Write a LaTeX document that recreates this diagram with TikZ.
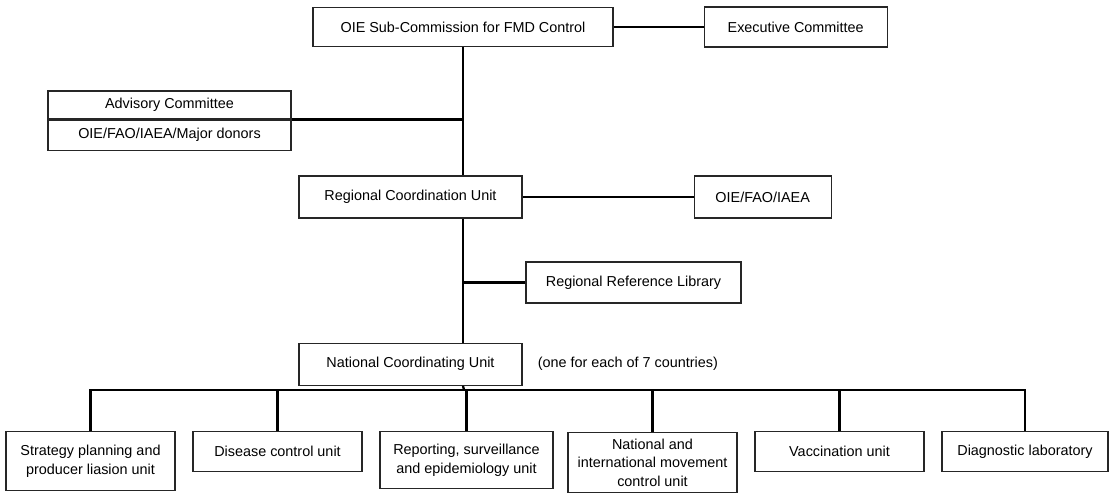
\documentclass[tikz,border=0pt]{standalone}
\usepackage{fontspec}
\setmainfont{Liberation Sans}
\usepackage{tikz}
\usetikzlibrary{positioning}

\begin{document}
\begin{tikzpicture}[
    x=0.75pt, y=-0.75pt,
    box/.style={rectangle, draw=black!85, line width=0.9pt, fill=white, minimum height=31.5pt, align=center, inner sep=2pt, font=\fontsize{10.8}{14}\selectfont},
    unitbox/.style={box, anchor=north, minimum width=126.75pt},
    conn/.style={line width=1.7pt, black},
    note/.style={font=\fontsize{10.8}{14}\selectfont, inner sep=0pt, anchor=west}
]
\useasboundingbox (0,0) rectangle (1118,494);

% Top level
\node[box, minimum width=225pt, minimum height=29.25pt] (sub) at (463,27) {OIE Sub-Commission for FMD Control};
\node[box, minimum width=137.25pt, minimum height=30pt, right=67.5pt of sub] (exec) {Executive Committee};

% Advisory committee (two rows)
\node[box, minimum width=182.25pt, minimum height=21pt] (advisory) at (169.5,105) {Advisory Committee};
\node[box, minimum width=182.25pt, minimum height=22.5pt, below=0pt of advisory] (donors) {OIE/FAO/IAEA/Major donors};

% Regional level
\node[box, minimum width=167.25pt] (rcu) at (410.5,197) {Regional Coordination Unit};
\node[box, minimum width=102.75pt, right=128.25pt of rcu] (oiefao) {OIE/FAO/IAEA};
\node[box, minimum width=161.25pt, minimum height=30.75pt] (library) at (633.5,282.5) {Regional Reference Library};

% National level
\node[box, minimum width=167.25pt, below=93pt of rcu] (ncu) {National Coordinating Unit};
\node[note, right=11.25pt of ncu] (countries) {(one for each of 7 countries)};

% Units
\node[unitbox, minimum height=44.25pt] (b1) at (90.5,431) {Strategy planning and\\producer liasion unit};
\node[unitbox, minimum height=30pt] (b2) at (277.5,431) {Disease control unit};
\node[unitbox, minimum width=129.75pt, minimum height=42.75pt] (b3) at (466.5,431) {Reporting, surveillance\\and epidemiology unit};
\node[unitbox, minimum height=45pt] (b4) at (652.5,432) {National and\\international movement\\control unit};
\node[unitbox, minimum height=30pt] (b5) at (839.5,431) {Vaccination unit};
\node[unitbox, minimum width=124.5pt, minimum height=30pt] (b6) at (1025,431) {Diagnostic laboratory};

\coordinate (bus) at (464,390);

% Trunk
\draw[conn] (sub.south) -- (sub.south |- rcu.north);
\draw[conn] (sub.south |- rcu.south) -- (sub.south |- ncu.north);
\draw[conn] (sub.south |- ncu.south) -- (bus);

% Side links
\draw[conn] (sub.east) -- (exec.west);
\draw[conn] (advisory.south east) -- (advisory.south east -| sub.south);
\draw[conn] (rcu.east) -- (oiefao.west);
\draw[conn] (library.west) -- (library.west -| sub.south);

% Bus to units
\foreach \b in {b1,b2,b3,b4,b5,b6}
    \draw[conn] (bus) -| (\b.north);

\end{tikzpicture}
\end{document}
